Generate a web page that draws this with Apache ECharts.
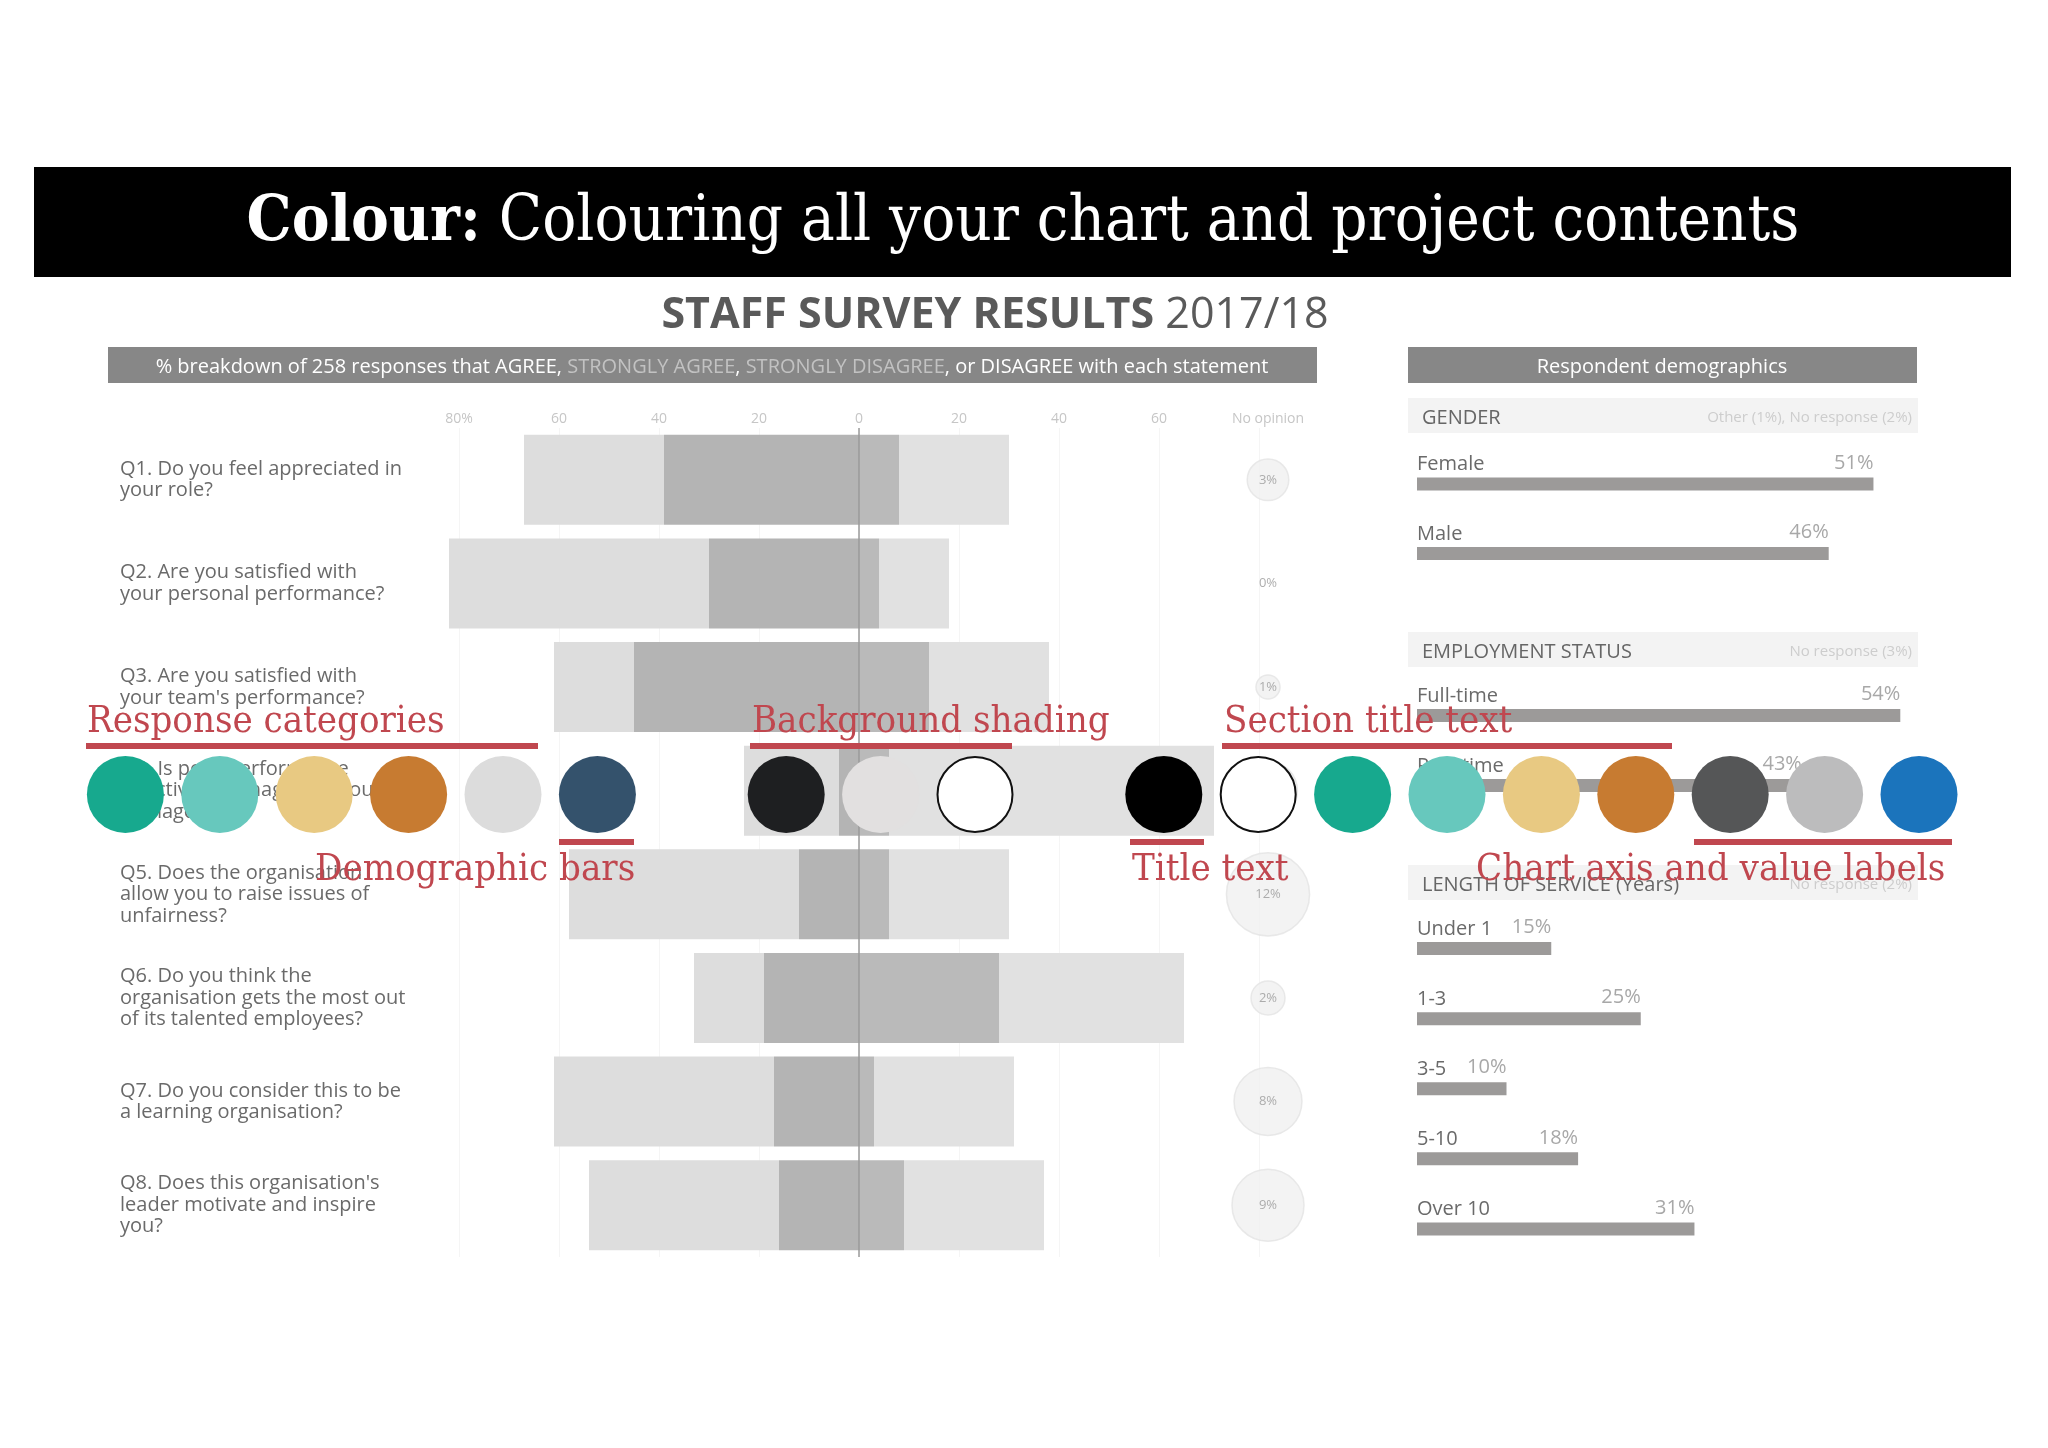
<!DOCTYPE html>
<html>
<head>
<meta charset="utf-8">
<script src="https://cdn.jsdelivr.net/npm/echarts@6/dist/echarts.min.js"></script>
<style>
html,body{margin:0;padding:0;background:#fff;}
#chart{width:2048px;height:1448px;}
</style>
</head>
<body>
<div id="chart"></div>
<script>
// ---------- data ----------
const questions = [
  "Q1. Do you feel appreciated in\nyour role?",
  "Q2. Are you satisfied with\nyour personal performance?",
  "Q3. Are you satisfied with\nyour team's performance?",
  "Q4. Is poor performance\neffectively managed by your\nmanager?",
  "Q5. Does the organisation\nallow you to raise issues of\nunfairness?",
  "Q6. Do you think the\norganisation gets the most out\nof its talented employees?",
  "Q7. Do you consider this to be\na learning organisation?",
  "Q8. Does this organisation's\nleader motivate and inspire\nyou?"
];
const stronglyAgree    = [39, 30, 45,  4, 12, 19, 17, 16];
const agree            = [28, 52, 16, 19, 46, 14, 44, 38];
const stronglyDisagree = [ 8,  4, 14,  6,  6, 28,  3,  9];
const disagree         = [22, 14, 24, 65, 24, 37, 28, 28];
const noOpinion        = [ 3,  0,  1,  6, 12,  2,  8,  9];
const axisTickValues   = [-80, -60, -40, -20, 0, 20, 40, 60];
const noOpinionLabel   = ["No opinion"];

const genderCats = ["Female", "Male"];
const genderVals = [51, 46];
const employmentCats = ["Full-time", "Part-time"];
const employmentVals = [54, 43];
const serviceCats = ["Under 1", "1-3", "3-5", "5-10", "Over 10"];
const serviceVals = [15, 25, 10, 18, 31];

const sectionTitles = ["GENDER", "EMPLOYMENT STATUS", "LENGTH OF SERVICE (Years)"];
const sectionNotes = ["Other (1%), No response (2%)", "No response (3%)", "No response (2%)"];

const paletteSlots = [0,1,2,3,4,5,7,8,9,11,12,13,14,15,16,17,18,19];
const paletteColors = ["#17a98e","#67c8bd","#e8c982","#c77b31","#dcdcdc","#34526c",
  "#1e1f21","#e2e0e0","#ffffff","#000000","#ffffff","#17a98e","#67c8bd","#e8c982","#c77b31",
  "#555657","#bcbcbd","#1b74bc"];
const annotations = [
  {text: "Response categories", x: 87, row: 0, u: [86, 538]},
  {text: "Background shading", x: 752, row: 0, u: [750, 1012]},
  {text: "Section title text", x: 1224, row: 0, u: [1222, 1672]},
  {text: "Demographic bars", x: 315, row: 1, u: [559, 634]},
  {text: "Title text", x: 1132, row: 1, u: [1130, 1204]},
  {text: "Chart axis and value labels", x: 1476, row: 1, u: [1694, 1952]}
];

// ---------- styles ----------
const SANS = "'Open Sans', 'Noto Sans', sans-serif";
const SLAB = "'DejaVu Serif Condensed', 'DejaVu Serif', serif";
const RED = "#c0474f";
const TXT = "#6a6a6a";
const AXIS_TXT = "#c6c6c6";

const chart = echarts.init(document.getElementById('chart'));

function demoSeries(idx, vals) {
  return [
    {
      type: 'bar', xAxisIndex: idx, yAxisIndex: idx, data: vals, barWidth: 13,
      itemStyle: {color: '#9c9a99'}, silent: true,
      label: {show: true, position: 'insideRight', distance: 0, offset: [0, -21],
        formatter: p => p.value + '%', color: '#a8a8a8', fontSize: 20, fontFamily: SANS}
    },
    {
      type: 'bar', xAxisIndex: idx, yAxisIndex: idx, data: vals, barWidth: 13, barGap: '-100%',
      itemStyle: {color: 'rgba(0,0,0,0)'}, silent: true,
      label: {show: true, position: [0, -3], align: 'left', verticalAlign: 'bottom',
        formatter: p => p.name, color: TXT, fontSize: 20, fontFamily: SANS}
    }
  ];
}

const demoGrids = [
  {left: 1417, width: 537, top: 449.25, height: 139},
  {left: 1417, width: 537, top: 680.5, height: 140},
  {left: 1417, width: 537, top: 913.5, height: 350.5}
];
const demoCats = [genderCats, employmentCats, serviceCats];
const sectionTops = [398, 632, 865];

const graphics = [];
// banner
graphics.push({type: 'rect', shape: {x: 34, y: 167, width: 1977, height: 110}, style: {fill: '#000'}, z: 1});
graphics.push({type: 'text', z: 2, style: {
  x: 1023, y: 224, textAlign: 'center', textVerticalAlign: 'middle', align: 'center', verticalAlign: 'middle',
  text: '{b|Colour:} Colouring all your chart and project contents',
  fill: '#fff', fontFamily: SLAB, fontSize: 63,
  rich: {b: {fontWeight: 'bold', fill: '#fff', fontFamily: SLAB, fontSize: 63}}
}});
// main title
graphics.push({type: 'text', z: 2, style: {
  x: 995, y: 316, textAlign: 'center', textVerticalAlign: 'middle', align: 'center', verticalAlign: 'middle',
  text: '{b|STAFF SURVEY RESULTS} 2017/18', fill: '#5a5a5a', fontFamily: SANS, fontSize: 43,
  rich: {b: {fontWeight: 'bold', fill: '#5a5a5a', fontFamily: SANS, fontSize: 43}}
}});
// subtitle bar
graphics.push({type: 'rect', shape: {x: 108, y: 347, width: 1209, height: 36}, style: {fill: '#878787'}, z: 1});
graphics.push({type: 'text', z: 2, style: {
  x: 712, y: 367, textAlign: 'center', textVerticalAlign: 'middle', align: 'center', verticalAlign: 'middle',
  text: '% breakdown of 258 responses that AGREE, {l|STRONGLY AGREE}, {l|STRONGLY DISAGREE}, or DISAGREE with each statement',
  fill: '#ffffff', fontFamily: SANS, fontSize: 20,
  rich: {l: {fill: '#c2c2c2', fontFamily: SANS, fontSize: 20}}
}});
// right header
graphics.push({type: 'rect', shape: {x: 1408, y: 347, width: 509, height: 36}, style: {fill: '#878787'}, z: 1});
graphics.push({type: 'text', z: 2, style: {
  x: 1662, y: 367, textAlign: 'center', textVerticalAlign: 'middle', align: 'center', verticalAlign: 'middle',
  text: 'Respondent demographics', fill: '#fff', fontFamily: SANS, fontSize: 20
}});
// section headers
sectionTitles.forEach((t, i) => {
  const top = sectionTops[i];
  graphics.push({type: 'rect', shape: {x: 1408, y: top, width: 510, height: 35}, style: {fill: '#f3f3f3'}, z: 0});
  graphics.push({type: 'text', z: 1, style: {x: 1422, y: top + 20, textAlign: 'left', textVerticalAlign: 'middle',
    align: 'left', verticalAlign: 'middle', text: t, fill: '#666', fontFamily: SANS, fontSize: 20}});
  graphics.push({type: 'text', z: 1, style: {x: 1912, y: top + 20, textAlign: 'right', textVerticalAlign: 'middle',
    align: 'right', verticalAlign: 'middle', text: sectionNotes[i], fill: '#cdcdcd', fontFamily: SANS, fontSize: 15}});
});
// colour swatches
paletteSlots.forEach((s, i) => {
  const c = paletteColors[i];
  const white = c === '#ffffff';
  graphics.push({type: 'circle', z: 50, shape: {cx: 125.4 + s * 94.4, cy: 794.5, r: white ? 37.5 : 38.5},
    style: {fill: c, stroke: white ? '#111' : null, lineWidth: white ? 2 : 0}});
});
// annotations
annotations.forEach(a => {
  const ty = a.row === 0 ? 722 : 870;
  const uy = a.row === 0 ? 743 : 839;
  graphics.push({type: 'text', z: 60, style: {x: a.x, y: ty, textAlign: 'left', textVerticalAlign: 'middle',
    align: 'left', verticalAlign: 'middle', text: a.text, fill: RED, fontFamily: SLAB, fontSize: 38}});
  graphics.push({type: 'rect', z: 60, shape: {x: a.u[0], y: uy, width: a.u[1] - a.u[0], height: 6}, style: {fill: RED}});
});

const barCommon = {type: 'bar', stack: 'q', barWidth: 90, silent: true, clip: false};

const option = {
  animation: false,
  backgroundColor: '#ffffff',
  grid: [
    {left: 459, right: 789, top: 428, height: 829},
    {left: 1238, width: 60, top: 428, height: 829},
    ...demoGrids
  ],
  xAxis: [
    {type: 'value', gridIndex: 0, min: -80, max: 80, interval: 20, position: 'top',
      axisLine: {show: false}, axisTick: {show: false},
      splitLine: {show: true, lineStyle: {color: '#f5f5f5', width: 1}},
      axisLabel: {color: AXIS_TXT, fontSize: 14, fontFamily: SANS, margin: 2,
        formatter: v => axisTickValues.indexOf(v) < 0 ? '' : (v === -80 ? '80%' : String(Math.abs(v)))}},
    {type: 'category', gridIndex: 1, data: noOpinionLabel, position: 'top',
      axisLine: {show: false}, axisTick: {show: false},
      axisLabel: {color: AXIS_TXT, fontSize: 14, fontFamily: SANS, margin: 2}},
    ...demoGrids.map((g, i) => ({type: 'value', gridIndex: i + 2, min: 0, max: 60, show: false}))
  ],
  yAxis: [
    {type: 'category', gridIndex: 0, data: questions, inverse: true,
      axisLine: {show: false}, axisTick: {show: false},
      axisLabel: {align: 'left', margin: 339, color: TXT, fontSize: 20, lineHeight: 21.5, fontFamily: SANS}},
    {type: 'category', gridIndex: 1, data: questions, inverse: true, show: false},
    ...demoCats.map((c, i) => ({type: 'category', gridIndex: i + 2, data: c, inverse: true, show: false}))
  ],
  series: [
    Object.assign({}, barCommon, {name: 'STRONGLY AGREE', data: stronglyAgree.map(v => -v),
      itemStyle: {color: '#b4b4b4'},
      markLine: {silent: true, symbol: 'none', label: {show: false}, data: [{xAxis: 0}],
        lineStyle: {color: '#9a9a9a', width: 1.5, type: 'solid'}, z: 10}}),
    Object.assign({}, barCommon, {name: 'STRONGLY DISAGREE', data: stronglyDisagree,
      itemStyle: {color: '#bababa'}}),
    Object.assign({}, barCommon, {name: 'AGREE', data: agree.map(v => -v),
      itemStyle: {color: '#dddddd'}}),
    Object.assign({}, barCommon, {name: 'DISAGREE', data: disagree,
      itemStyle: {color: '#e1e1e1'}}),
    {name: 'No opinion', type: 'scatter', xAxisIndex: 1, yAxisIndex: 1, silent: true,
      data: noOpinion.map((v, i) => v > 0 ? {value: [0, i, v]} :
        {value: [0, i, v], itemStyle: {color: 'rgba(0,0,0,0)', borderWidth: 0}}),
      symbolSize: d => d[2] > 0 ? Math.sqrt(d[2]) * 24 : 2,
      itemStyle: {color: '#f0f0f0', borderColor: '#e3e3e3', borderWidth: 1.5},
      label: {show: true, position: 'inside', formatter: p => p.value[2] + '%', color: '#9a9a9a', fontSize: 13, fontFamily: SANS}},
    ...demoSeries(2, genderVals),
    ...demoSeries(3, employmentVals),
    ...demoSeries(4, serviceVals)
  ],
  graphic: {elements: graphics}
};
chart.setOption(option);
</script>
</body>
</html>
